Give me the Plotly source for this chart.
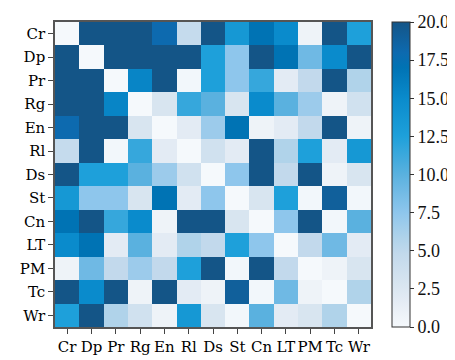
import plotly.graph_objects as go

labels = ["Cr", "Dp", "Pr", "Rg", "En", "Rl", "Ds", "St", "Cn", "LT", "PM", "Tc", "Wr"]

row_Cr = [0, 20, 20, 20, 18, 4.5, 20, 13.5, 17, 15, 0.8, 20, 12.5]
row_Dp = [20, 0, 20, 20, 20, 20, 12.5, 7.5, 20, 17, 9, 15, 20]
row_Pr = [20, 20, 0, 15.5, 20, 0.3, 12.5, 7.5, 11.5, 1.8, 4.8, 20, 5.8]
row_Rg = [20, 20, 15.5, 0, 2.8, 11.5, 10, 2.8, 15, 10, 6.8, 0.8, 3.5]
row_En = [18, 20, 20, 2.8, 0, 1.8, 6.8, 17, 0.8, 1.8, 4.8, 20, 0.8]
row_Rl = [4.5, 20, 0.3, 11.5, 1.8, 0, 3.5, 1.8, 20, 5.8, 12.5, 1.8, 13.5]
row_Ds = [20, 12.5, 12.5, 10, 6.8, 3.5, 0, 7.5, 20, 4.8, 20, 0.8, 2.8]
row_St = [13.5, 7.5, 7.5, 2.8, 17, 1.8, 7.5, 0, 2.8, 12.5, 0.3, 19, 0.3]
row_Cn = [17, 20, 11.5, 15, 0.8, 20, 20, 2.8, 0, 7.5, 20, 0.3, 10]
row_LT = [15, 17, 1.8, 10, 1.8, 5.8, 4.8, 12.5, 7.5, 0, 4.8, 9, 1.8]
row_PM = [0.8, 9, 4.8, 6.8, 4.8, 12.5, 20, 0.3, 20, 4.8, 0, 0.8, 2.8]
row_Tc = [20, 15, 20, 0.8, 20, 1.8, 0.8, 19, 0.3, 9, 0.8, 0, 5.8]
row_Wr = [12.5, 20, 5.8, 3.5, 0.8, 13.5, 2.8, 0.3, 10, 1.8, 2.8, 5.8, 0]

z = [row_Cr, row_Dp, row_Pr, row_Rg, row_En, row_Rl, row_Ds,
     row_St, row_Cn, row_LT, row_PM, row_Tc, row_Wr]

cbar_ticks = [0, 2.5, 5, 7.5, 10, 12.5, 15, 17.5, 20]

colorscale = [
    [0.0, "#f5f9fc"],
    [0.04, "#eef3f8"],
    [0.09, "#e3ebf4"],
    [0.14, "#d8e5f0"],
    [0.24, "#c2d9ec"],
    [0.29, "#b0d3ea"],
    [0.375, "#8ec6ec"],
    [0.5, "#5ab1df"],
    [0.625, "#1ea0da"],
    [0.75, "#0a8bcc"],
    [0.85, "#0073b4"],
    [0.9, "#0d6aaf"],
    [1.0, "#145587"],
]

fig = go.Figure(go.Heatmap(
    z=z, x=labels, y=labels,
    zmin=0, zmax=20,
    colorscale=colorscale,
    colorbar=dict(
        x=1.068, xanchor="left", xpad=0, ypad=0,
        y=0.5, yanchor="middle", len=1.0, lenmode="fraction",
        thickness=18,
        outlinewidth=1, outlinecolor="#333",
        ticks="outside", ticklen=4, tickcolor="#333",
        tickvals=cbar_ticks, tickformat=".1f",
        tickfont=dict(family="Liberation Serif", size=18, color="#111"),
    ),
))

axis_common = dict(
    showline=True, mirror=True, linecolor="#555", linewidth=1.5,
    ticks="outside", ticklen=5, tickcolor="#444", tickwidth=1,
    tickfont=dict(family="DejaVu Serif", size=15, color="#000"),
    showgrid=False, zeroline=False,
)

fig.update_xaxes(**axis_common)
fig.update_yaxes(autorange="reversed", **axis_common)

fig.update_layout(
    width=455, height=360,
    margin=dict(l=44, r=87, t=13, b=23),
    paper_bgcolor="white", plot_bgcolor="white",
)

fig.write_html("out.html")
